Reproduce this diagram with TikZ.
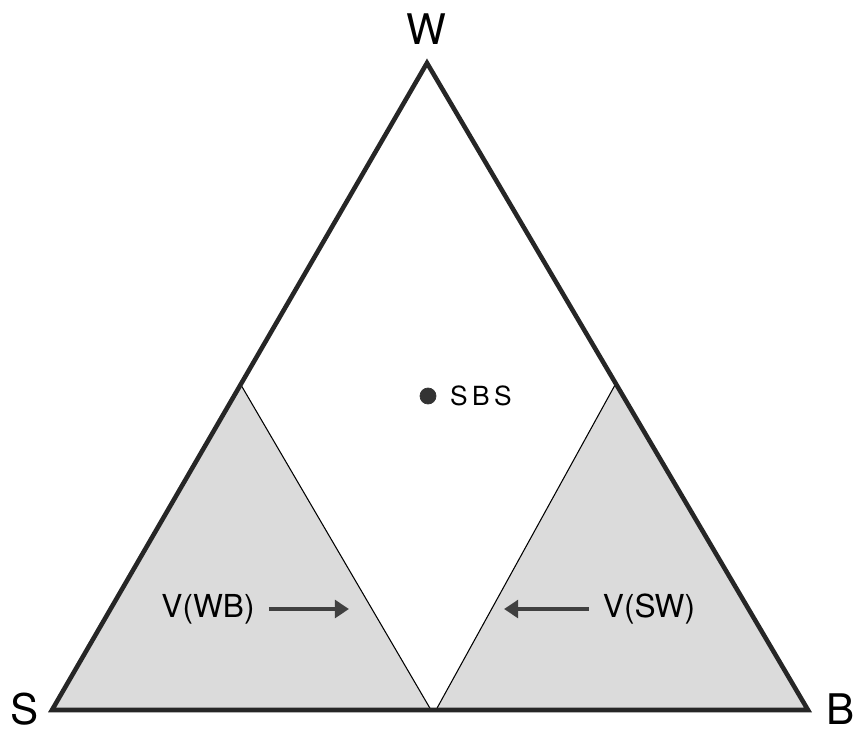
\documentclass[tikz,border=0pt]{standalone}
\usepackage{fontspec}
\setmainfont{TeX Gyre Heros}
\usetikzlibrary{arrows.meta}

\begin{document}
\begin{tikzpicture}[x=0.02cm, y=-0.02cm]
    \useasboundingbox (0,0) rectangle (855,733);
    \coordinate (S) at (52,710);
    \coordinate (B) at (808,710);
    \coordinate (W) at (427,63);
    \coordinate (L) at (241,385);
    \coordinate (R) at (615,385);
    \coordinate (ML) at (431,710);
    \coordinate (MR) at (436,710);
    \fill[gray!28] (S) -- (L) -- (ML) -- cycle;
    \fill[gray!28] (MR) -- (R) -- (B) -- cycle;
    \draw[line width=0.6pt] (L) -- (ML);
    \draw[line width=0.6pt] (R) -- (MR);
    \draw[line width=2.6pt, black!85, line join=miter] (S) -- (B) -- (W) -- cycle;
    \node[font=\fontsize{24}{28}\selectfont, inner sep=1pt] (labW) at (426,29) {W};
    \node[font=\fontsize{24}{28}\selectfont, inner sep=1pt] (labS) at (25,709) {S};
    \node[font=\fontsize{24}{28}\selectfont, inner sep=1pt] (labB) at (841,709) {B};
    \filldraw[black!80] (428,396) circle (8);
    \node[font=\fontsize{15}{18}\selectfont, anchor=west] (sbs) at (444,396) {S\,B\,S};
    \node[font=\fontsize{18}{22}\selectfont] (vwb) at (208,609) {V(WB)};
    \node[font=\fontsize{18}{22}\selectfont] (vsw) at (649,609) {V(SW)};
    \coordinate (endWB) at (349,609);
    \coordinate (endSW) at (504,609);
    \draw[line width=2.8pt, black!75, -{Triangle[length=8pt,width=10pt]}] (vwb.east) ++(8,0) -- (endWB);
    \draw[line width=2.8pt, black!75, -{Triangle[length=8pt,width=10pt]}] (vsw.west) ++(-8,0) -- (endSW);
\end{tikzpicture}
\end{document}
